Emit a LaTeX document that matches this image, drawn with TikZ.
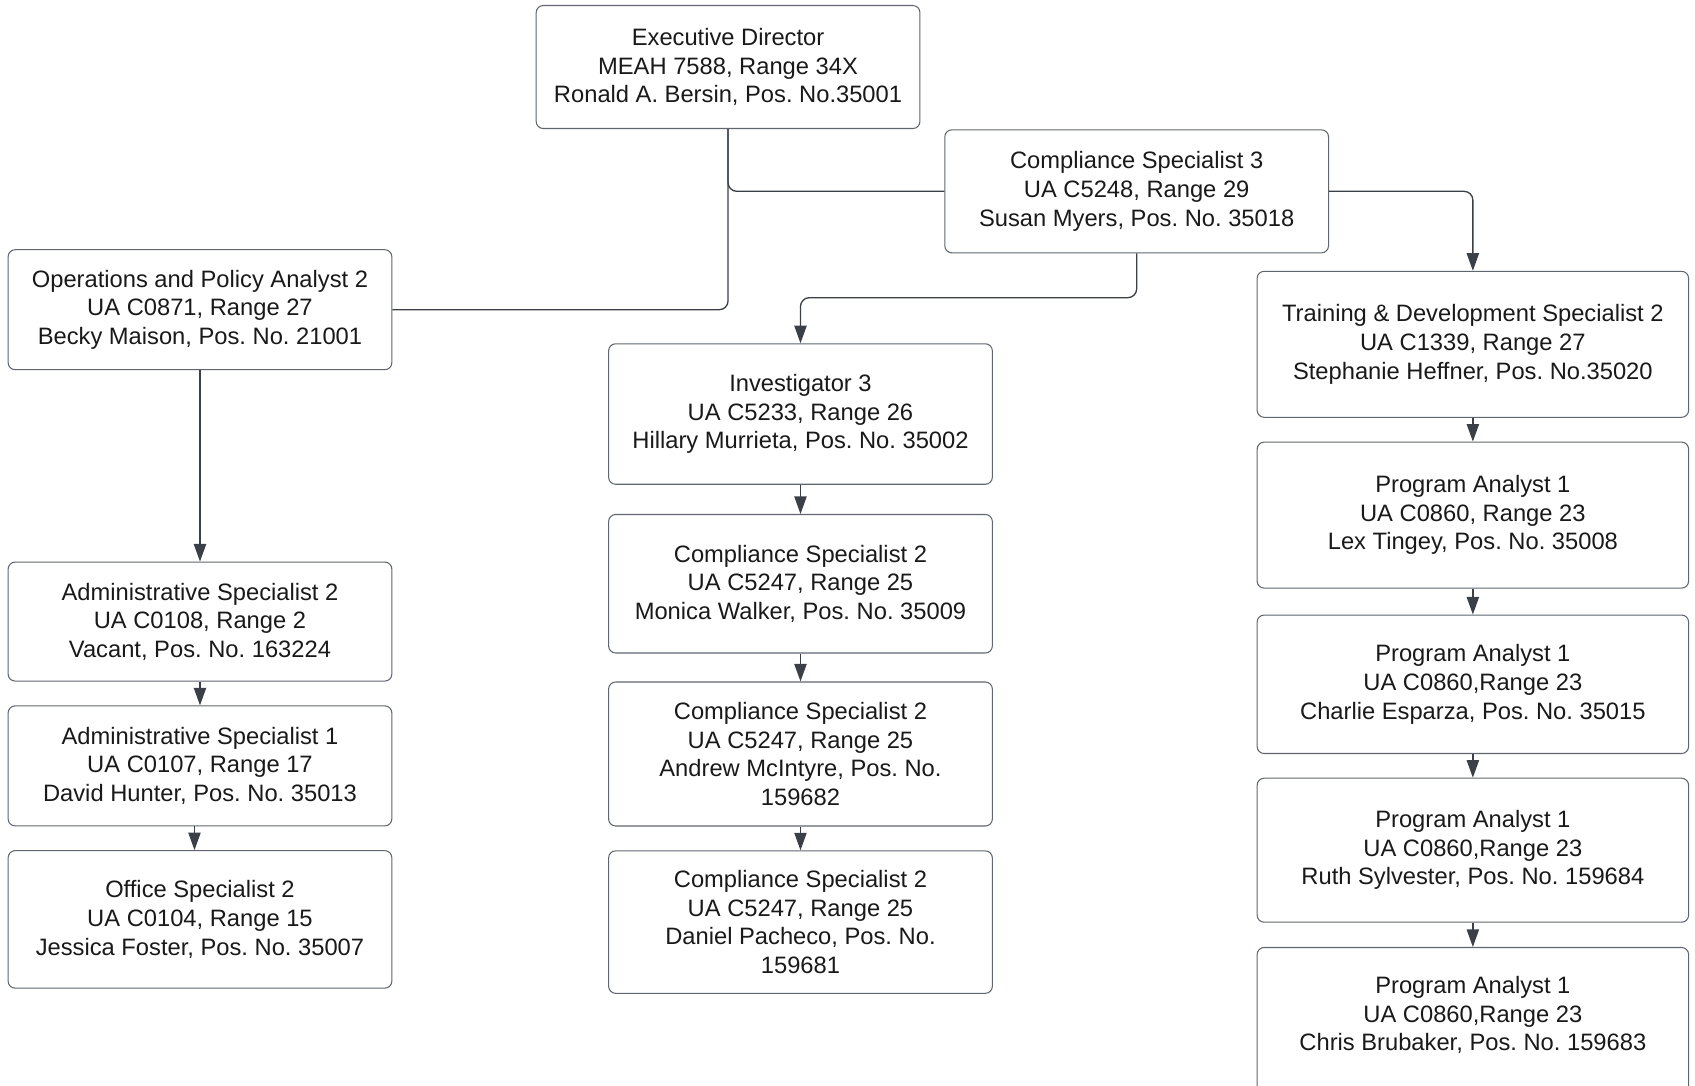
\documentclass[tikz,border=0pt]{standalone}
\usepackage{fontspec}
\setmainfont{Liberation Sans}
\frenchspacing
\usetikzlibrary{positioning, arrows.meta}
\definecolor{edgegray}{HTML}{3B4048}
\definecolor{boxgray}{HTML}{5F6670}
\begin{document}
\begin{tikzpicture}[x=0.02162cm, y=-0.02162cm,
					post/.style={draw=boxgray, line width=0.6pt, rounded corners=4pt, align=center,
						font=\fontsize{13.5}{16.3}\selectfont, text=black!90, minimum width=7.675cm, inner sep=2pt},
					widepost/.style={post, minimum width=8.63cm},
					link/.style={draw=edgegray, line width=0.75pt, rounded corners=5pt},
					arrow/.style={link, -{Triangle[length=10pt, width=7pt]}}]
					\useasboundingbox (0,0) rectangle (1568,1004.6);
					\node[post, minimum height=2.46cm] (exec) at (673.5,62) {Executive Director\\MEAH 7588, Range 34X\\Ronald A. Bersin, Pos. No.35001};
					\node[post, minimum height=2.46cm] (comp3) at (1051.5,177) {Compliance Specialist 3\\UA C5248, Range 29\\Susan Myers, Pos. No. 35018};
					\node[post, minimum height=2.40cm] (opa) at (185,286.5) {Operations and Policy Analyst 2\\UA C0871, Range 27\\Becky Maison, Pos. No. 21001};
					\node[post, minimum height=2.38cm] (adm2) at (185,575) {Administrative Specialist 2\\UA C0108, Range 2\\Vacant, Pos. No. 163224};
					\node[post, minimum height=2.40cm] (adm1) at (185,708.5) {Administrative Specialist 1\\UA C0107, Range 17\\David Hunter, Pos. No. 35013};
					\node[post, minimum height=2.75cm] (office) at (185,850.5) {Office Specialist 2\\UA C0104, Range 15\\Jessica Foster, Pos. No. 35007};
					\node[post, minimum height=2.81cm] (inv) at (740.5,383) {Investigator 3\\UA C5233, Range 26\\Hillary Murrieta, Pos. No. 35002};
					\node[post, minimum height=2.77cm] (compa) at (740.5,540) {Compliance Specialist 2\\UA C5247, Range 25\\Monica Walker, Pos. No. 35009};
					\node[post, minimum height=2.88cm] (compb) at (740.5,697.5) {Compliance Specialist 2\\UA C5247, Range 25\\Andrew McIntyre, Pos. No.\\159682};
					\node[post, minimum height=2.85cm] (compc) at (740.5,853) {Compliance Specialist 2\\UA C5247, Range 25\\Daniel Pacheco, Pos. No.\\159681};
					\node[widepost, minimum height=2.92cm] (train) at (1362.5,318.5) {Training \& Development Specialist 2\\UA C1339, Range 27\\Stephanie Heffner, Pos. No.35020};
					\node[widepost, minimum height=2.92cm] (prog1) at (1362.5,476.5) {Program Analyst 1\\UA C0860, Range 23\\Lex Tingey, Pos. No. 35008};
					\node[widepost, minimum height=2.77cm] (prog2) at (1362.5,633) {Program Analyst 1\\UA C0860,Range 23\\Charlie Esparza, Pos. No. 35015};
					\node[widepost, minimum height=2.88cm] (prog3) at (1362.5,786.5) {Program Analyst 1\\UA C0860,Range 23\\Ruth Sylvester, Pos. No. 159684};
					\node[widepost, minimum height=6cm, anchor=north] (prog4) at (1362.5,876) {};
					\node[align=center, font=\fontsize{13.5}{16.3}\selectfont, text=black!90] (prog4text) at (1362.5,939) {Program Analyst 1\\UA C0860,Range 23\\Chris Brubaker, Pos. No. 159683};
					\draw[link] (exec.south) |- (comp3.west);
					\draw[link] (exec.south) |- (opa.east);
					\draw[arrow] (comp3.east) -| (train.north);
					\draw[arrow] (comp3.south) -- ++(0,41) -| (inv.north);
					\draw[arrow] (opa) -- (adm2);
					\draw[arrow] (adm2) -- (adm1);
					\draw[arrow] ([xshift=-0.11cm]adm1.south) -- ([xshift=-0.11cm]office.north);
					\draw[arrow] (inv) -- (compa);
					\draw[arrow] (compa) -- (compb);
					\draw[arrow] (compb) -- (compc);
					\draw[arrow] (train) -- (prog1);
					\draw[arrow] (prog1) -- (prog2);
					\draw[arrow] (prog2) -- (prog3);
					\draw[arrow] (prog3) -- (prog4);
				\end{tikzpicture}
\end{document}
